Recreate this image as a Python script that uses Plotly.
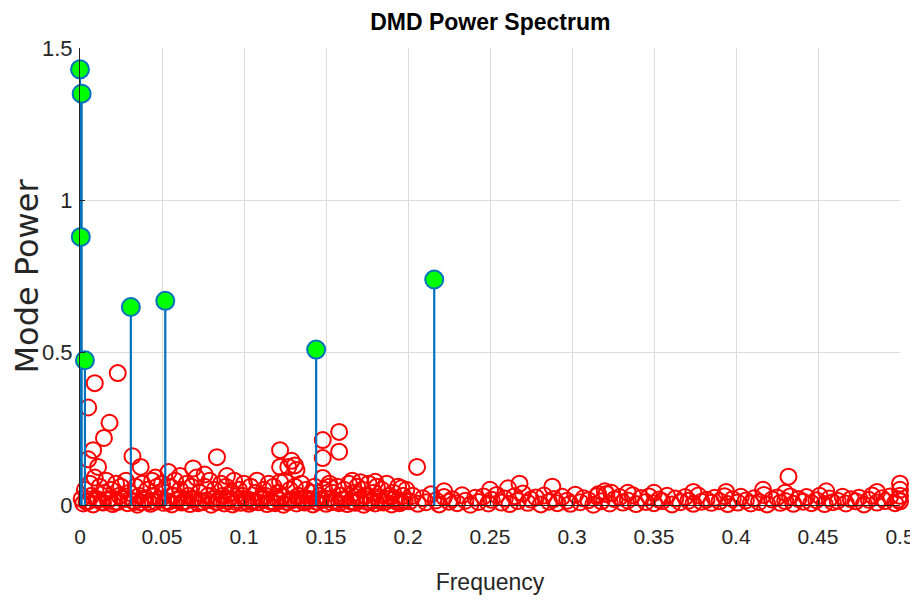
import plotly.graph_objects as go

# Dominant DMD modes (stems)
green_x = [0.0, 0.001, 0.0005, 0.003, 0.031, 0.052, 0.144, 0.216]
green_y = [1.43, 1.35, 0.88, 0.475, 0.65, 0.67, 0.51, 0.74]

# Remaining modes: low-frequency dense band
red_x_a = [0.001,0.003,0.004,0.006,0.007,0.009,0.010,0.012,0.013,0.015,
           0.016,0.018,0.019,0.021,0.022,0.024,0.025,0.027,0.028,0.030,
           0.033,0.034,0.036,0.038,0.039,0.041,0.042,0.044,0.045,0.047,
           0.048,0.050,0.052,0.054,0.055,0.057,0.058,0.060,0.061,0.063,
           0.065,0.066,0.068,0.070,0.071,0.073,0.074,0.076,0.078,0.079,
           0.081,0.082,0.084,0.086,0.087,0.089,0.091,0.092,0.094,0.095,
           0.097,0.099,0.100,0.102,0.104,0.105,0.107,0.108,0.110,0.112,
           0.113,0.115,0.117,0.118,0.120,0.121,0.123,0.125,0.126,0.128,
           0.130,0.131,0.133,0.135,0.136,0.138,0.140,0.141,0.143,0.145,
           0.146,0.149,0.151,0.152,0.154,0.156,0.157,0.159,0.161,0.162,
           0.164,0.166,0.167,0.169,0.171,0.172,0.174,0.176,0.177,0.179,
           0.181,0.182,0.184,0.186,0.187,0.189,0.191,0.192,0.194,0.196,
           0.197,0.199]
red_y_a = [0.02,0.05,0.01,0.07,0.03,0.09,0.02,0.06,0.01,0.04,
           0.08,0.02,0.05,0.01,0.07,0.03,0.06,0.02,0.08,0.04,
           0.01,0.06,0.03,0.07,0.02,0.05,0.01,0.08,0.03,0.06,
           0.02,0.07,0.04,0.01,0.06,0.03,0.08,0.02,0.05,0.01,
           0.07,0.03,0.06,0.02,0.09,0.04,0.01,0.06,0.03,0.08,
           0.02,0.05,0.01,0.07,0.03,0.06,0.02,0.04,0.08,0.01,
           0.05,0.03,0.07,0.02,0.06,0.01,0.04,0.08,0.02,0.05,
           0.03,0.07,0.01,0.06,0.02,0.04,0.03,0.08,0.01,0.05,
           0.02,0.06,0.03,0.07,0.01,0.05,0.02,0.04,0.06,0.01,
           0.03,0.05,0.02,0.07,0.04,0.01,0.06,0.03,0.05,0.02,
           0.07,0.01,0.04,0.06,0.02,0.05,0.03,0.07,0.01,0.04,
           0.06,0.02,0.05,0.01,0.07,0.03,0.04,0.02,0.06,0.01,
           0.03,0.05]

red_x_b = [0.002,0.005,0.008,0.011,0.014,0.017,0.020,0.023,0.026,0.029,
           0.032,0.035,0.037,0.040,0.043,0.046,0.049,0.051,0.053,0.056,
           0.059,0.062,0.064,0.067,0.069,0.072,0.075,0.077,0.080,0.083,
           0.085,0.088,0.090,0.093,0.096,0.098,0.101,0.103,0.106,0.109,
           0.111,0.114,0.116,0.119,0.122,0.124,0.127,0.129,0.132,0.134,
           0.137,0.139,0.142,0.144,0.147,0.150,0.153,0.155,0.158,0.160,
           0.163,0.165,0.168,0.170,0.173,0.175,0.178,0.180,0.183,0.185,
           0.188,0.190,0.193,0.195,0.198]
red_y_b = [0.005,0.012,0.002,0.018,0.008,0.015,0.003,0.010,0.020,0.006,
           0.014,0.001,0.009,0.017,0.004,0.011,0.019,0.007,0.013,0.002,
           0.016,0.008,0.012,0.003,0.018,0.006,0.010,0.015,0.001,0.009,
           0.020,0.005,0.013,0.002,0.017,0.007,0.011,0.004,0.014,0.009,
           0.018,0.003,0.012,0.006,0.016,0.001,0.010,0.015,0.005,0.019,
           0.008,0.013,0.002,0.011,0.017,0.004,0.009,0.014,0.006,0.018,
           0.003,0.012,0.007,0.016,0.001,0.010,0.015,0.005,0.013,0.008,
           0.019,0.002,0.011,0.006,0.014]

# High-frequency band
red_x_c = [0.201,0.203,0.206,0.209,0.211,0.214,0.217,0.219,0.222,0.225,
           0.227,0.230,0.233,0.235,0.238,0.241,0.243,0.246,0.249,0.251,
           0.254,0.257,0.259,0.262,0.265,0.267,0.270,0.273,0.275,0.278,
           0.281,0.283,0.286,0.289,0.291,0.294,0.297,0.299,0.302,0.305,
           0.307,0.310,0.313,0.315,0.318,0.321,0.323,0.326,0.329,0.331,
           0.334,0.337,0.339,0.342,0.345,0.347,0.350,0.353,0.355,0.358,
           0.361,0.363,0.366,0.369,0.371,0.374,0.377,0.379,0.382,0.385,
           0.387,0.390,0.393,0.395,0.398,0.401,0.403,0.406,0.409,0.411,
           0.414,0.417,0.419,0.422,0.425,0.427,0.430,0.433,0.435,0.438,
           0.441,0.443,0.446,0.449,0.451,0.454,0.457,0.459,0.462,0.465,
           0.467,0.470,0.473,0.475,0.478,0.481,0.483,0.486,0.489,0.491,
           0.494,0.497,0.499]
red_y_c = [0.012,0.030,0.004,0.022,0.009,0.035,0.015,0.002,0.026,0.011,
           0.019,0.006,0.032,0.014,0.001,0.024,0.010,0.028,0.005,0.017,
           0.033,0.008,0.021,0.003,0.029,0.013,0.038,0.007,0.018,0.025,
           0.002,0.031,0.011,0.020,0.006,0.027,0.014,0.004,0.034,0.009,
           0.022,0.016,0.001,0.029,0.012,0.036,0.005,0.019,0.026,0.008,
           0.015,0.032,0.003,0.023,0.010,0.028,0.006,0.018,0.013,0.030,
           0.002,0.021,0.009,0.026,0.014,0.004,0.031,0.011,0.017,0.007,
           0.024,0.012,0.029,0.003,0.019,0.008,0.027,0.015,0.005,0.022,
           0.010,0.033,0.002,0.018,0.025,0.007,0.013,0.028,0.004,0.020,
           0.011,0.026,0.006,0.016,0.030,0.003,0.021,0.009,0.014,0.027,
           0.005,0.019,0.012,0.024,0.002,0.017,0.031,0.008,0.022,0.013,
           0.028,0.006,0.018]

# Isolated weaker modes
red_x_d = [0.009,0.023,0.005,0.018,0.0146,0.008,0.005,0.011,0.032,0.037,
           0.054,0.069,0.0835,0.0896,0.076,0.061,0.046,0.122,0.129,0.131,
           0.132,0.127,0.122,0.122,0.148,0.148,0.148,0.158,0.158,0.2055,
           0.166,0.171,0.180,0.196,0.152,0.268,0.288,0.261,0.250,0.222,
           0.432,0.5,0.5,0.5,0.5,0.4165,0.394,0.374,0.486,0.320,
           0.324,0.334,0.316,0.430,0.455,0.350]
red_y_d = [0.40,0.433,0.32,0.27,0.22,0.18,0.15,0.125,0.16,0.125,
           0.108,0.12,0.157,0.095,0.10,0.095,0.09,0.18,0.145,0.13,
           0.115,0.125,0.125,0.075,0.213,0.154,0.089,0.24,0.175,0.125,
           0.08,0.075,0.076,0.055,0.06,0.07,0.06,0.055,0.05,0.045,
           0.093,0.07,0.05,0.03,0.012,0.05,0.043,0.043,0.043,0.045,
           0.04,0.04,0.035,0.04,0.045,0.04]

x_ticks = [0, 0.05, 0.1, 0.15, 0.2, 0.25, 0.3, 0.35, 0.4, 0.45, 0.5]
y_ticks = [0, 0.5, 1, 1.5]

red_x = red_x_a + red_x_b + red_x_c + red_x_d
red_y = red_y_a + red_y_b + red_y_c + red_y_d

stem_x, stem_y = [], []
for gx, gy in zip(green_x, green_y):
    stem_x += [gx, gx, None]
    stem_y += [0, gy, None]

BLUE = "#0072BD"
SANS = "Liberation Sans, Arial, sans-serif"

fig = go.Figure()
fig.add_trace(go.Scatter(
    x=red_x, y=red_y, mode="markers", cliponaxis=False,
    marker=dict(symbol="circle-open", size=16, color="#FF0000", line=dict(width=2, color="#FF0000")),
    showlegend=False, hoverinfo="skip"))
fig.add_trace(go.Scatter(
    x=stem_x, y=stem_y, mode="lines", line=dict(color=BLUE, width=2.2),
    showlegend=False, hoverinfo="skip"))
fig.add_trace(go.Scatter(
    x=green_x, y=green_y, mode="markers", cliponaxis=False,
    marker=dict(symbol="circle", size=18, color="#00FF00", line=dict(width=2, color=BLUE)),
    showlegend=False))

fig.update_layout(
    width=910, height=597,
    margin=dict(l=72, r=18, t=40, b=100, autoexpand=False),
    paper_bgcolor="white", plot_bgcolor="white",
    title=dict(text="<b>DMD Power Spectrum</b>", x=0.53, xanchor="center", y=0.976, yanchor="middle",
               font=dict(family=SANS, size=23, color="#000000")),
    font=dict(family=SANS, color="#262626"),
)
fig.update_xaxes(
    range=[0, 0.5], tickvals=x_ticks, ticktext=[("%g" % v) for v in x_ticks],
    showgrid=True, gridcolor="#DCDCDC", gridwidth=1, zeroline=False,
    showline=True, linecolor="#262626", linewidth=1.2,
    ticks="inside", ticklen=5, tickcolor="#262626",
    tickfont=dict(family=SANS, size=21, color="#262626"),
    ticklabelstandoff=13, automargin=False,
    title=dict(text="Frequency", font=dict(family=SANS, size=23, color="#262626"), standoff=26),
)
fig.update_yaxes(
    range=[0, 1.5], tickvals=y_ticks, ticktext=[("%g" % v) for v in y_ticks],
    showgrid=True, gridcolor="#DCDCDC", gridwidth=1, zeroline=False,
    showline=True, linecolor="#262626", linewidth=1.2,
    ticks="inside", ticklen=5, tickcolor="#262626",
    tickfont=dict(family=SANS, size=22, color="#262626"),
    ticklabelstandoff=2, automargin=False,
    title=dict(text="Mode Power", font=dict(family="DejaVu Sans", size=32, color="#262626"), standoff=8),
)

fig.write_html("out.html")
